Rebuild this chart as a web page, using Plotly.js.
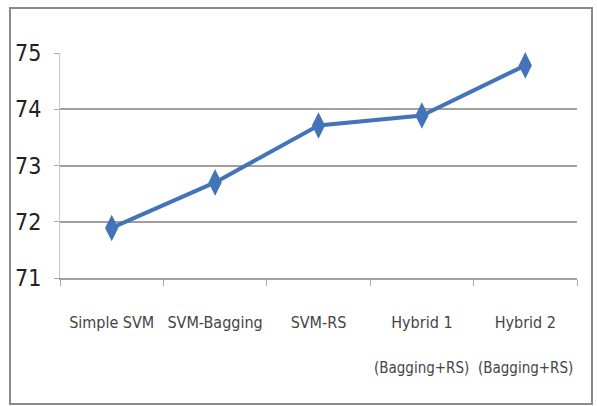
<!DOCTYPE html>
<html>
<head>
<meta charset="utf-8">
<script src="https://cdn.plot.ly/plotly-3.0.1.min.js"></script>
<style>
  html, body { margin: 0; padding: 0; background: #fff; }
  #chart { width: 597px; height: 406px; }
</style>
</head>
<body>
<div id="chart"></div>
<script>
// Accuracy of each classifier configuration
const methods = ['Simple SVM', 'SVM-Bagging', 'SVM-RS', 'Hybrid 1', 'Hybrid 2'];
const methodNotes = ['', '', '', '(Bagging+RS)', '(Bagging+RS)'];
const accuracy = [71.89, 72.70, 73.71, 73.89, 74.78];
const yTicks = [71, 72, 73, 74, 75];

const FONT = 'DejaVu Sans Condensed, Liberation Sans Narrow, sans-serif';

const trace = {
  x: methods,
  y: accuracy,
  type: 'scatter',
  mode: 'lines+markers',
  line: { color: '#4474b8', width: 4 },
  marker: { symbol: 'diamond-tall', size: 19, color: '#4474b8' },
  cliponaxis: false,
  hoverinfo: 'x+y'
};

// second line of the hybrid category labels
const notes = methods.map((m, i) => ({
  x: m, xref: 'x',
  y: -0.40, yref: 'paper',
  yanchor: 'middle',
  text: methodNotes[i],
  showarrow: false,
  font: { family: FONT, size: 15, color: '#444' }
})).filter(a => a.text);

const layout = {
  width: 597,
  height: 406,
  margin: { l: 60, r: 20, t: 53, b: 128 },
  paper_bgcolor: '#ffffff',
  plot_bgcolor: '#ffffff',
  showlegend: false,
  font: { family: FONT, color: '#333' },
  xaxis: {
    type: 'category',
    range: [-0.5, 4.5],
    tickvals: methods,
    ticktext: methods,
    tickangle: 0,
    tickson: 'boundaries',
    ticks: 'outside',
    ticklen: 6,
    tickcolor: '#a8a8a8',
    tickwidth: 1,
    showgrid: false,
    showline: true,
    linecolor: '#a0a0a0',
    linewidth: 2,
    zeroline: false,
    ticklabelstandoff: 29,
    tickfont: { size: 16, color: '#444' }
  },
  yaxis: {
    range: [71, 75],
    tickvals: yTicks,
    ticks: 'outside',
    ticklen: 5,
    tickcolor: '#a8a8a8',
    showgrid: true,
    gridcolor: '#a0a0a0',
    gridwidth: 2,
    showline: true,
    linecolor: '#c8c8c8',
    linewidth: 1,
    zeroline: false,
    ticklabelstandoff: 8,
    tickfont: { size: 23, color: '#222' }
  },
  annotations: notes,
  shapes: [{
    type: 'rect',
    xref: 'paper', yref: 'paper',
    x0: (10 - 60) / 517, x1: (592 - 60) / 517,
    y0: (406 - 128 - 404) / 225, y1: (406 - 128 - 8) / 225,
    line: { color: '#8a8a8a', width: 2 },
    fillcolor: 'rgba(0,0,0,0)',
    layer: 'below'
  }]
};

Plotly.newPlot('chart', [trace], layout, { displayModeBar: false, staticPlot: true });
</script>
</body>
</html>
